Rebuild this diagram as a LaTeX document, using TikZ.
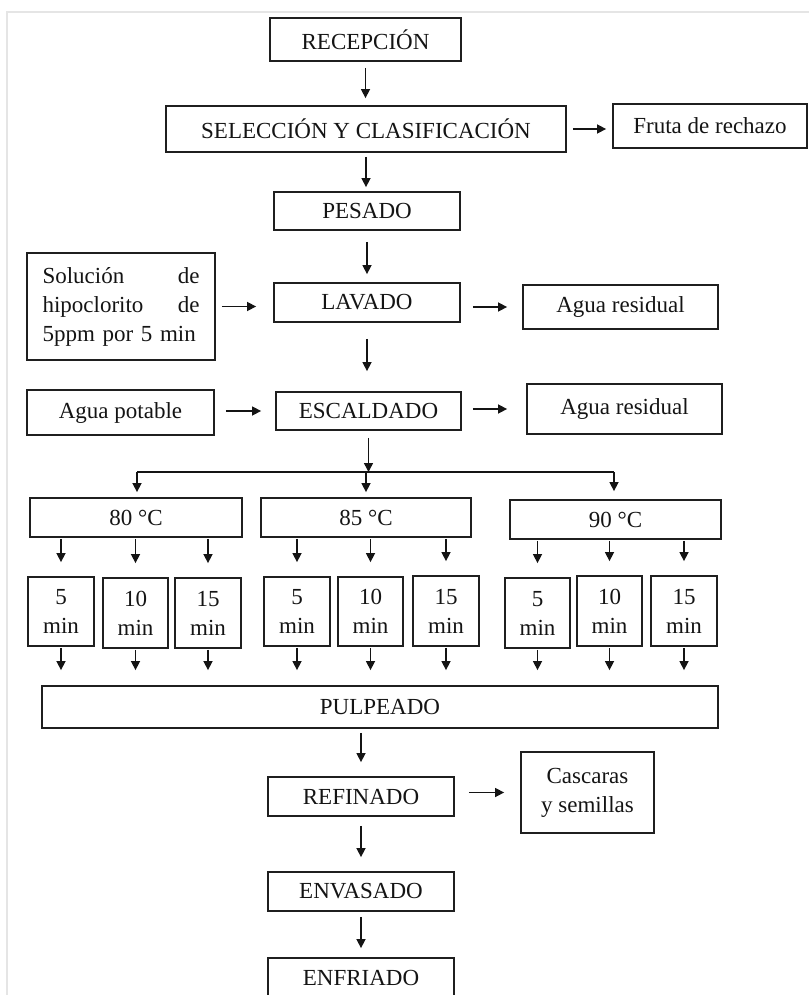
\documentclass[tikz,border=0pt]{standalone}
\usepackage{fontspec}
\setmainfont{Liberation Serif}
\usetikzlibrary{arrows.meta}
\begin{document}
\begin{tikzpicture}[x=1pt,y=-1pt,
  box/.style={draw=black!88, line width=1.8pt, inner sep=0pt, align=center,
    font=\fontsize{23}{29}\selectfont, text=black!92},
  wh/.style 2 args={minimum width=#1pt, minimum height=#2pt},
  arr/.style={line width=1.5pt, draw=black!92, -{Triangle[length=9pt,width=9pt]}},
  ln/.style={line width=1.5pt, draw=black!92},
]
\useasboundingbox (0,0) rectangle (809,995);
\clip (0,0) rectangle (809,995);
\draw[black!10, line width=2pt] (809,12) -- (7,12) -- (7,995);

% main column
\node[box, wh={191}{43}] (rec) at (365.5,39.5) {RECEPCIÓN};
\node[box, wh={400}{46}] (sel) at (366,129) {SELECCIÓN Y CLASIFICACIÓN};
\node[box, wh={194}{44}] (fruta) at (710,126) {Fruta de rechazo};
\node[box, wh={186}{38}] (pes) at (367,211) {PESADO};
\node[box, wh={188}{107}, text width=157pt, align=left] (sol) at (121,306.5)
  {Solución\hfill de\\hipoclorito\hfill de\\5ppm por 5 min};
\node[box, wh={186}{39}] (lav) at (367,302.5) {LAVADO};
\node[box, wh={195}{44}] (ar1) at (620.5,307) {Agua residual};
\node[box, wh={187}{45}] (pot) at (120.5,412.5) {Agua potable};
\node[box, wh={185}{38}] (esc) at (368.5,411) {ESCALDADO};
\node[box, wh={195}{50}] (ar2) at (624.5,409) {Agua residual};

% temperatures
\node[box, wh={212}{39}] (t80) at (136,517.5) {80 °C};
\node[box, wh={210}{39}] (t85) at (366,517.5) {85 °C};
\node[box, wh={211}{39}] (t90) at (615.5,519.5) {90 °C};

% times
\node[box, wh={66}{69}] (m805) at (61,611.5) {5\\min};
\node[box, wh={65}{70}] (m810) at (135.5,613) {10\\min};
\node[box, wh={66}{70}] (m815) at (208,613) {15\\min};
\node[box, wh={66}{69}] (m855) at (297,611.5) {5\\min};
\node[box, wh={65}{69}] (m8510) at (370.5,611.5) {10\\min};
\node[box, wh={66}{70}] (m8515) at (446,611) {15\\min};
\node[box, wh={65}{70}] (m905) at (537.5,613) {5\\min};
\node[box, wh={65}{70}] (m9010) at (609.5,611) {10\\min};
\node[box, wh={66}{70}] (m9015) at (684,611) {15\\min};

\node[box, wh={676}{42}] (pulp) at (380,707) {PULPEADO};
\node[box, wh={186}{39}] (ref) at (361,796.5) {REFINADO};
\node[box, wh={133}{81}] (cas) at (587.5,792.5) {Cascaras\\y semillas};
\node[box, wh={186}{39}] (env) at (361,891.5) {ENVASADO};
\node[box, wh={186}{40}] (enf) at (361,978) {ENFRIADO};

% vertical arrows of main column
\draw[arr, shorten <=6pt, shorten >=7pt] (rec.south) -- (rec.south |- sel.north);
\draw[arr, shorten <=4pt, shorten >=4pt] (sel.south) -- (sel.south |- pes.north);
\draw[arr, shorten <=11pt, shorten >=8pt] (pes.south) -- (pes.south |- lav.north);
\draw[arr, shorten <=16pt, shorten >=20pt] (lav.south) -- (lav.south |- esc.north);

% side arrows
\draw[arr, shorten <=6pt, shorten >=6pt] (sel.east) -- (sel.east -| fruta.west);
\draw[arr, shorten <=6pt, shorten >=17pt] (sol.east) -- (sol.east -| lav.west);
\draw[arr, shorten <=12pt, shorten >=15pt] (lav.east |- ar1.west) -- (ar1.west);
\draw[arr, shorten <=11pt, shorten >=14pt] (esc.west -| pot.east) -- (esc.west);
\draw[arr, shorten <=11pt, shorten >=19pt] (esc.east |- ar2.west) -- (ar2.west);
\draw[arr, shorten <=14pt, shorten >=16pt] (ref.east |- cas.west) -- (cas.west);

% branching to temperatures
\coordinate (jL) at (137,472);
\coordinate (jM) at (366,472);
\coordinate (jR) at (614,472);
\draw[arr, shorten <=7pt] (esc.south) -- (esc.south |- jM);
\draw[ln] (jL) -- (jR);
\draw[arr, shorten >=5pt] (jL) -- (jL |- t80.north);
\draw[arr, shorten >=5pt] (jM) -- (jM |- t85.north);
\draw[arr, shorten >=8pt] (jR) -- (jR |- t90.north);

% temperatures to times
\foreach \t/\m in {t80/m805, t80/m810, t80/m815, t85/m855, t85/m8510, t85/m8515, t90/m905, t90/m9010, t90/m9015}{
  \draw[arr, shorten <=1pt, shorten >=14pt] (\m.north |- \t.south) -- (\m.north);
  \draw[arr, shorten <=1pt, shorten >=15pt] (\m.south) -- (\m.south |- pulp.north);
}

% lower column
\draw[arr, shorten <=4pt, shorten >=14pt] (ref.north |- pulp.south) -- (ref.north);
\draw[arr, shorten <=9pt, shorten >=14pt] (ref.south) -- (env.north);
\draw[arr, shorten <=5pt, shorten >=9pt] (env.south) -- (enf.north);
\end{tikzpicture}
\end{document}
